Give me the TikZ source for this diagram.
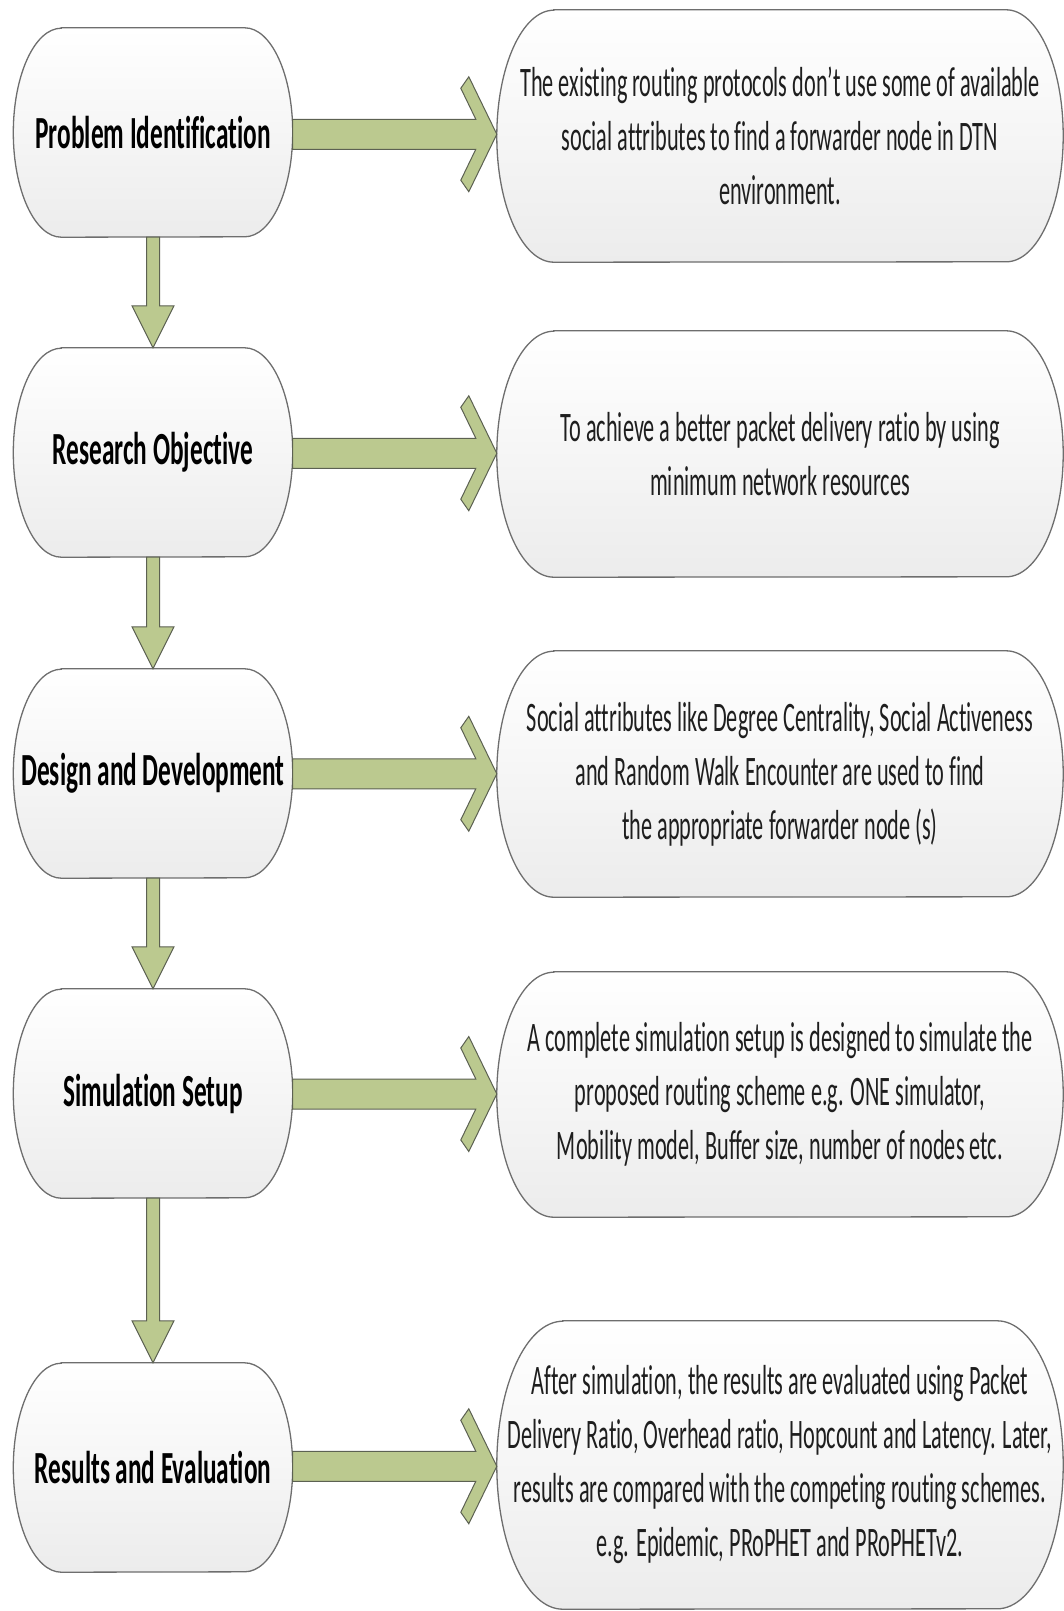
\documentclass[tikz,border=0pt]{standalone}
\usepackage{fontspec}
\newfontfamily\bodyfont[FakeStretch=0.53,Ligatures=NoCommon]{Carlito}
\newfontfamily\headfont[FakeStretch=0.55,Ligatures=NoCommon]{Carlito}
\usetikzlibrary{calc,backgrounds}

\definecolor{framegray}{HTML}{6E6E6E}
\definecolor{fillbottom}{HTML}{ECECEC}
\definecolor{arrowgreen}{HTML}{BBC98F}
\definecolor{arrowline}{HTML}{5C6152}
\definecolor{bodytext}{HTML}{1E1E1E}

\tikzset{
  stage/.style={inner sep=0pt, minimum width=279pt, minimum height=209pt,
    align=center, font={\headfont\bfseries\fontsize{46}{54}\selectfont}},
  detail/.style={inner sep=0pt, minimum width=566pt, minimum height=246pt,
    align=center, text=bodytext, font={\bodyfont\fontsize{42}{54}\selectfont}},
  pill/.style={draw=framegray, line width=1.3pt, top color=white, bottom color=fillbottom},
  pillshadow/.style={fill=black, fill opacity=0.10, draw=none, xshift=2pt, yshift=-3.5pt},
  blockarrow/.style={draw=arrowline, line width=1pt, fill=arrowgreen, line join=miter},
  arrowshadow/.style={fill=black, fill opacity=0.10, draw=none, xshift=2pt, yshift=-2.5pt}
}

% outline with half-elliptic ends around a node: style, name, x radius, half height
\newcommand\pilloutline[4]{%
  \path[#1] ([xshift=#3]#2.north west) -- ([xshift=-#3]#2.north east)
    arc[start angle=90, end angle=-90, x radius=#3, y radius=#4]
    -- ([xshift=#3]#2.south west)
    arc[start angle=270, end angle=90, x radius=#3, y radius=#4] -- cycle;}
\newcommand\pillframe[3]{%
  \pilloutline{pillshadow}{#1}{#2}{#3}%
  \pilloutline{pill}{#1}{#2}{#3}}

% wide arrow with an open chevron head, from a stage to its detail
\newcommand\sidearrowpath[3]{%
  \path[#1] let \p1=(#2.east), \p2=(#3.west), \p3=($(\p1)!0.5!(\p2)$) in
    (\x1,\y3+15pt) -- (\x2-21pt,\y3+15pt) -- (\x2-36pt,\y3+46pt) -- (\x2-28pt,\y3+57.5pt)
    -- (\x2,\y3) -- (\x2-28pt,\y3-57.5pt) -- (\x2-36pt,\y3-46pt) -- (\x2-21pt,\y3-15pt)
    -- (\x1,\y3-15pt) -- cycle;}
\newcommand\sidearrow[2]{%
  \sidearrowpath{arrowshadow}{#1}{#2}%
  \sidearrowpath{blockarrow}{#1}{#2}}

% downward block arrow between two stages
\newcommand\stagearrowpath[3]{%
  \path[#1] let \p1=(#2.south), \p2=(#3.north) in
    (\x1-6.5pt,\y1) -- (\x1-6.5pt,\y2+42pt) -- (\x1-21pt,\y2+42pt) -- (\x1,\y2)
    -- (\x1+21pt,\y2+42pt) -- (\x1+6.5pt,\y2+42pt) -- (\x1+6.5pt,\y1) -- cycle;}
\newcommand\stagearrow[2]{%
  \stagearrowpath{arrowshadow}{#1}{#2}%
  \stagearrowpath{blockarrow}{#1}{#2}}

\begin{document}
\begin{tikzpicture}[x=1pt, y=-1pt]
  \useasboundingbox (0,0) rectangle (1064,1611);

  % stages
  \node[stage] (L1) at (153,132.5) {Problem Identification};
  \node[stage] (L2) at (153,452.5) {Research Objective};
  \node[stage] (L3) at (153,773.5) {Design and Development};
  \node[stage] (L4) at (153,1093.5) {Simulation Setup};
  \node[stage] (L5) at (153,1467.5) {Results and Evaluation};

  % details
  \node[detail, minimum height=252pt] (R1) at (780,136)
    {The existing routing protocols don’t use some of available\\
     social attributes to find a forwarder node in DTN\\
     environment.};
  \node[detail] (R2) at (780,454)
    {To achieve a better packet delivery ratio by using\\
     minimum network resources};
  \node[detail] (R3) at (780,774)
    {Social attributes like Degree Centrality, Social Activeness\\
     and Random Walk Encounter are used to find\\
     the appropriate forwarder node (s)};
  \node[detail, minimum height=245pt] (R4) at (780,1094.5)
    {A complete simulation setup is designed to simulate the\\
     proposed routing scheme e.g. ONE simulator,\\
     Mobility model, Buffer size, number of nodes etc.};
  \node[detail, minimum height=288pt] (R5) at (780,1465)
    {After simulation, the results are evaluated using Packet\\
     Delivery Ratio, Overhead ratio, Hopcount and Latency. Later,\\
     results are compared with the competing routing schemes.\\
     e.g. Epidemic, PRoPHET and PRoPHETv2.};

  \begin{pgfonlayer}{background}
    \pillframe{L1}{48pt}{104.5pt}
    \pillframe{L2}{48pt}{104.5pt}
    \pillframe{L3}{48pt}{104.5pt}
    \pillframe{L4}{48pt}{104.5pt}
    \pillframe{L5}{48pt}{104.5pt}
    \pillframe{R1}{57pt}{126pt}
    \pillframe{R2}{57pt}{123pt}
    \pillframe{R3}{57pt}{123pt}
    \pillframe{R4}{57pt}{122.5pt}
    \pillframe{R5}{66pt}{144pt}
  \end{pgfonlayer}

  % flow down the stages
  \stagearrow{L1}{L2}
  \stagearrow{L2}{L3}
  \stagearrow{L3}{L4}
  \stagearrow{L4}{L5}

  % each stage to its detail
  \sidearrow{L1}{R1}
  \sidearrow{L2}{R2}
  \sidearrow{L3}{R3}
  \sidearrow{L4}{R4}
  \sidearrow{L5}{R5}
\end{tikzpicture}
\end{document}
